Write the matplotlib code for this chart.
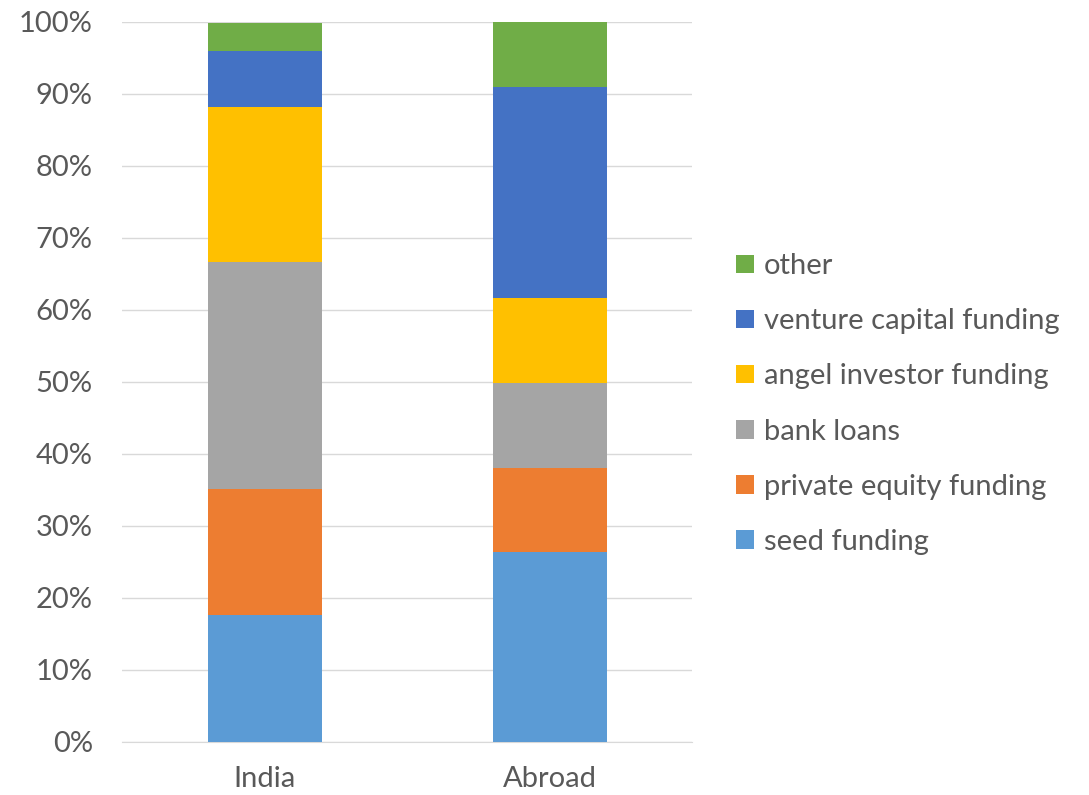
import matplotlib.pyplot as plt
from matplotlib.ticker import PercentFormatter

categories = ["India", "Abroad"]
series = ["seed funding", "private equity funding", "bank loans",
          "angel investor funding", "venture capital funding", "other"]
seed = [17.6, 26.4]
private_equity = [17.6, 11.7]
bank_loans = [31.4, 11.8]
angel = [21.6, 11.8]
venture = [7.8, 29.3]
other = [3.9, 9.0]
colors = ["#5B9BD5", "#ED7D31", "#A5A5A5", "#FFC000", "#4472C4", "#70AD47"]

plt.rcParams['font.family'] = ['Lato', 'DejaVu Sans']

fig = plt.figure(figsize=(10.89, 7.95), dpi=100)
ax = fig.add_axes([122/1089, 1 - 742/795, 570/1089, 720/795])

x = range(len(categories))
bottom = [0, 0]
for name, vals, c in zip(series, [seed, private_equity, bank_loans, angel, venture, other], colors):
    ax.bar(x, vals, 0.4, bottom=bottom, color=c, label=name, zorder=3)
    bottom = [b + v for b, v in zip(bottom, vals)]

ax.set_xlim(-0.5, 1.5)
ax.set_ylim(0, 100)
ax.set_yticks(range(0, 101, 10))
ax.yaxis.set_major_formatter(PercentFormatter(decimals=0))
ax.set_xticks(list(x))
ax.set_xticklabels(categories)
ax.grid(axis='y', color='#D9D9D9', linewidth=1, zorder=0)
for s in ['top', 'right', 'left']:
    ax.spines[s].set_visible(False)
ax.spines['bottom'].set_color('#D9D9D9')
ax.tick_params(axis='both', length=0, labelsize=21, colors='#595959')
ax.tick_params(axis='y', pad=21)
ax.tick_params(axis='x', pad=17)

handles, labels = ax.get_legend_handles_labels()
leg = fig.legend(handles[::-1], labels[::-1], loc='center left',
                 bbox_to_anchor=(736/1089, 1 - 404/795), frameon=False,
                 fontsize=21, handlelength=0.6, handleheight=0.6,
                 handletextpad=0.35, labelspacing=1.0, borderpad=0,
                 borderaxespad=0)
for t in leg.get_texts():
    t.set_color('#595959')

fig.savefig("out.png", dpi=100)
